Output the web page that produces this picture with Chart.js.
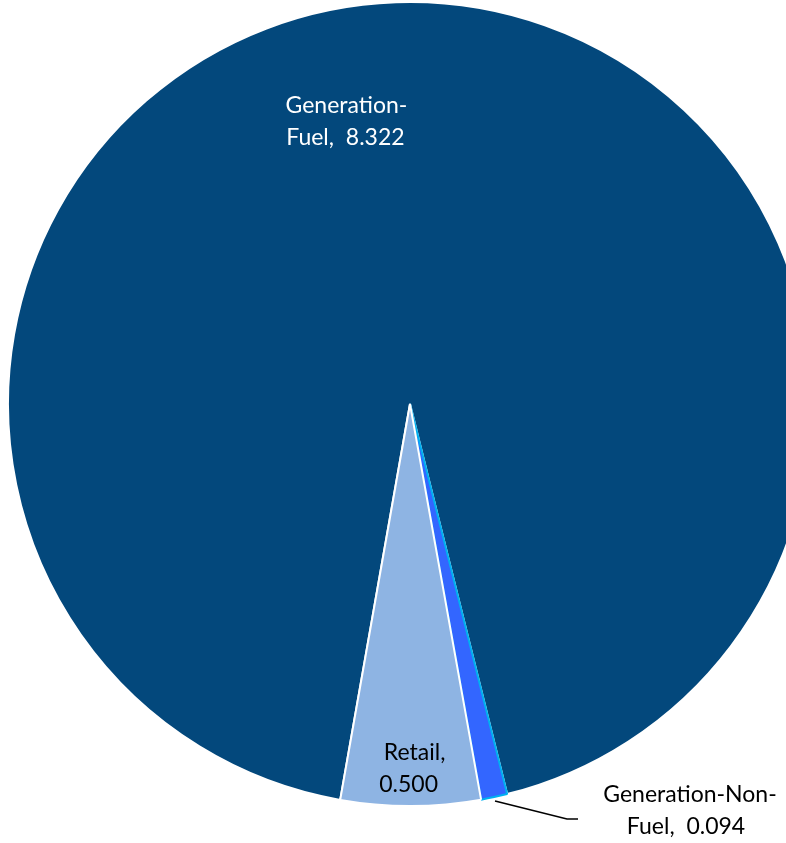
<!DOCTYPE html>
<html>
<head>
<meta charset="utf-8">
<script src="https://cdn.jsdelivr.net/npm/chart.js@4.4.0/dist/chart.umd.min.js"></script>
<style>
  html, body { margin: 0; padding: 0; background: #fff; overflow: hidden; width: 786px; height: 843px; }
  #wrap { position: absolute; left: 0; top: 0; width: 815px; height: 843px; }
</style>
</head>
<body>
<div id="wrap"><canvas id="c" width="815" height="843"></canvas></div>
<script>
const categories = ['Generation-Fuel', 'Generation-Non-Fuel', 'Retail'];
const values = [8.322, 0.094, 0.500];
const valueLabels = ['8.322', '0.094', '0.500'];
const sliceColors = ['#03487C', '#3366FF', '#8EB4E3'];
const sliceBorders = ['#FFFFFF', '#00B0F0', '#FFFFFF'];

const FONT = '23px Lato, "Open Sans", sans-serif';

const labelPlugin = {
  id: 'sliceLabels',
  afterDatasetsDraw(chart) {
    const ctx = chart.ctx;
    const arcs = chart.getDatasetMeta(0).data;
    ctx.save();
    ctx.font = FONT;
    ctx.textAlign = 'center';
    ctx.textBaseline = 'middle';

    // Generation-Fuel: inside, upper part
    {
      const a = arcs[0];
      const r = a.outerRadius;
      const ang = -Math.PI / 2 - 0.225;
      const x = a.x + Math.cos(ang) * r * 0.72;
      const y = a.y + Math.sin(ang) * r * 0.72;
      ctx.fillStyle = '#FFFFFF';
      ctx.fillText('Generation-', x + 1, y - 16);
      ctx.fillText('Fuel,  ' + valueLabels[0], x, y + 16);
    }
    // Retail: inside near the edge
    {
      const a = arcs[2];
      const r = a.outerRadius;
      const mid = (a.startAngle + a.endAngle) / 2;
      const x = a.x + Math.cos(mid) * r * 0.905;
      const y = a.y + Math.sin(mid) * r * 0.905;
      ctx.fillStyle = '#000000';
      ctx.fillText('Retail,', x + 4, y - 15);
      ctx.fillText(valueLabels[2], x - 2, y + 17);
    }
    // Generation-Non-Fuel: outside with leader line
    {
      const a = arcs[1];
      const r = a.outerRadius;
      const mid = (a.startAngle + a.endAngle) / 2;
      const sx = a.x + Math.cos(mid) * (r + 4);
      const sy = a.y + Math.sin(mid) * (r + 4);
      const ex = sx + 72, ey = sy + 18;
      ctx.strokeStyle = '#000000';
      ctx.lineWidth = 1.5;
      ctx.beginPath();
      ctx.moveTo(sx, sy);
      ctx.lineTo(ex, ey);
      ctx.lineTo(ex + 11, ey);
      ctx.stroke();
      ctx.fillStyle = '#000000';
      ctx.fillText('Generation-Non-', ex + 123, ey - 24);
      ctx.fillText('Fuel,  ' + valueLabels[1], ex + 119, ey + 8);
    }
    ctx.restore();
  }
};

new Chart(document.getElementById('c'), {
  type: 'pie',
  data: {
    labels: categories,
    datasets: [{
      data: values,
      backgroundColor: sliceColors,
      borderColor: sliceBorders,
      borderWidth: 2
    }]
  },
  options: {
    responsive: false,
    animation: false,
    rotation: 190,
    layout: { padding: { left: 7, top: 1, right: 2, bottom: 36 } },
    plugins: {
      legend: { display: false },
      tooltip: { enabled: false }
    }
  },
  plugins: [labelPlugin]
});
</script>
</body>
</html>
